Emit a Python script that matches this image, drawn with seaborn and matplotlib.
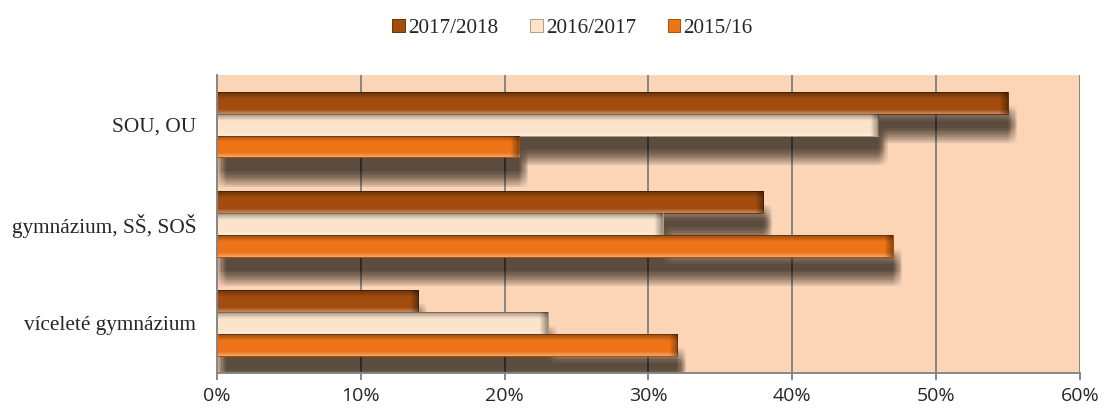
import matplotlib
matplotlib.use("Agg")
import matplotlib.pyplot as plt
import matplotlib.patheffects as pe
from matplotlib.patches import Patch
from matplotlib.ticker import FuncFormatter
import seaborn as sns
import pandas as pd
import numpy as np

# data (share in %)
categories = ["SOU, OU", "gymnázium, SŠ, SOŠ", "víceleté gymnázium"]
years = ["2017/2018", "2016/2017", "2015/16"]
share_2017_2018 = [55, 38, 14]
share_2016_2017 = [46, 31, 23]
share_2015_16 = [21, 47, 32]
x_ticks = [0, 10, 20, 30, 40, 50, 60]

colors = {"2017/2018": "#A24D0E", "2016/2017": "#FCE4CB", "2015/16": "#EF7417"}
edges = {"2017/2018": "#6E3208", "2016/2017": "#B89A80", "2015/16": "#A4500C"}

rows = []
for yr, vals in zip(years, [share_2017_2018, share_2016_2017, share_2015_16]):
    for cat, v in zip(categories, vals):
        rows.append({"Typ": cat, "Rok": yr, "Podil": v})
df = pd.DataFrame(rows)

sns.set_style("white")
serif = "Liberation Serif"

fig, ax = plt.subplots(figsize=(11.03, 4.12), dpi=100)
fig.subplots_adjust(left=0.1967, right=0.979, top=0.818, bottom=0.095)
ax.set_facecolor("#FBD5B6")

sns.barplot(data=df, y="Typ", x="Podil", hue="Rok", order=categories,
            hue_order=years, palette=colors, orient="h", width=0.66,
            saturation=1, legend=False, ax=ax)

# soft drop shadow under each bar (many faint offset copies)
shadow = []
for dx in np.linspace(0.0, 6.5, 9):
    for dy in np.linspace(-10.0, -21.0, 9):
        shadow.append(pe.SimplePatchShadow(offset=(dx, dy), shadow_rgbFace="#1c1814",
                                           alpha=0.0105, linewidth=0))
shadow.append(pe.Normal())

# vertical bevel gradient
grad = np.zeros((40, 1, 4))
t = np.linspace(0, 1, 40)
for i, v in enumerate(t):
    if v < 0.2:
        grad[i, 0] = [1, 1, 1, 0.35 * (1 - v / 0.2)]
    elif v > 0.7:
        grad[i, 0] = [0, 0, 0, 0.35 * (v - 0.7) / 0.3]

for cont, yr in zip(ax.containers, years):
    for bar in cont:
        bar.set_edgecolor(edges[yr])
        bar.set_linewidth(0.7)
        bar.set_path_effects(shadow)
        x0, y0 = bar.get_x(), bar.get_y()
        w, h = bar.get_width(), bar.get_height()
        im = ax.imshow(grad, extent=(x0, x0 + w, y0, y0 + h), aspect="auto",
                       zorder=1.5, interpolation="bilinear")
        im.set_clip_path(bar)
        cap = np.zeros((1, 10, 4))
        cap[0, :, 3] = np.linspace(0, 0.4, 10)
        im2 = ax.imshow(cap, extent=(x0 + w - 0.6, x0 + w, y0, y0 + h), aspect="auto",
                        zorder=1.6, interpolation="bilinear")
        im2.set_clip_path(bar)

ax.set_xlim(0, 60)
ax.set_ylim(2.5, -0.5)
ax.set_xticks(x_ticks)
ax.xaxis.set_major_formatter(FuncFormatter(lambda v, p: f"{v:.0f}%"))
ax.set_xlabel("")
ax.set_ylabel("")

ax.set_axisbelow(True)
ax.grid(axis="x", color="#868686", linewidth=1.4)
ax.grid(axis="y", visible=False)
for s in ["top", "right"]:
    ax.spines[s].set_visible(False)
for s in ["left", "bottom"]:
    ax.spines[s].set_color("#868686")
    ax.spines[s].set_linewidth(1.4)

ax.tick_params(axis="x", length=5, width=1.4, color="#868686", pad=5,
               labelsize=14, bottom=True)
ax.tick_params(axis="y", length=0, pad=15)
for lab in ax.get_xticklabels():
    lab.set_fontfamily("Open Sans")
for lab in ax.get_yticklabels():
    lab.set_fontfamily(serif)
    lab.set_fontsize(15.3)

handles = [Patch(facecolor=colors[y], edgecolor=edges[y], linewidth=0.7) for y in years]
fig.legend(handles, years, loc="upper center", bbox_to_anchor=(0.519, 1.0), ncol=3,
           frameon=False, prop={"family": serif, "size": 15.2}, handlelength=0.6,
           handleheight=0.6, handletextpad=0.15, columnspacing=1.5)

fig.savefig("out.png", dpi=100)
